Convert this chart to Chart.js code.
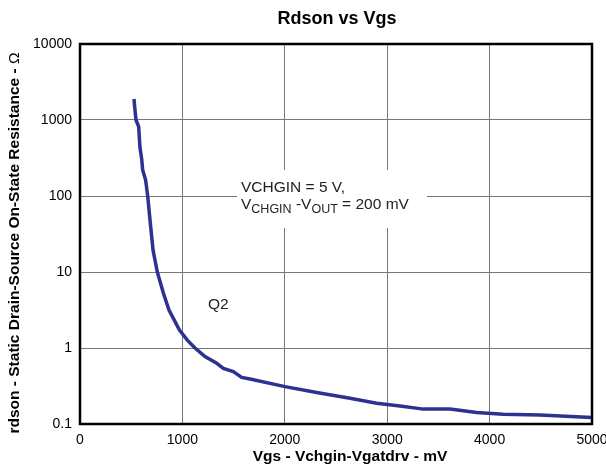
<!DOCTYPE html>
<html>
<head>
<meta charset="utf-8">
<script src="https://cdn.jsdelivr.net/npm/chart.js@4/dist/chart.umd.min.js"></script>
<style>
html,body{margin:0;padding:0;background:#fff;}
#wrap{width:606px;height:470px;position:relative;}
</style>
</head>
<body>
<div id="wrap"><canvas id="c" width="606" height="470"></canvas></div>
<script>
// ---- data ----
const vgs = [527, 537, 547, 573, 579, 586, 602, 612, 641, 661, 684, 713, 755, 814, 869, 970, 1048, 1123, 1221, 1335, 1400, 1497, 1579, 1660, 2002, 2311, 2637, 2897, 3125, 3353, 3613, 3874, 4134, 4492, 4997];
const rdson = [1890, 1355, 1000, 817, 600, 430, 310, 220, 162, 100, 48, 19.5, 10, 5.3, 3.16, 1.73, 1.27, 1.0, 0.77, 0.63, 0.54, 0.49, 0.41, 0.39, 0.31, 0.26, 0.218, 0.187, 0.172, 0.157, 0.157, 0.142, 0.134, 0.131, 0.122];
const xTicks = [0, 1000, 2000, 3000, 4000, 5000];
const yTicks = [0.1, 1, 10, 100, 1000, 10000];
const yTickLabels = ['0.1', '1', '10', '100', '1000', '10000'];
const chartTitle = 'Rdson vs Vgs';
const xTitle = 'Vgs - Vchgin-Vgatdrv - mV';
const yTitle = 'rdson - Static Drain-Source On-State Resistance - ';
const seriesLabel = 'Q2';

const FONT = '"Liberation Sans", Arial, Helvetica, sans-serif';

const points = vgs.map((v, i) => ({x: v, y: rdson[i]}));

const decor = {
  id: 'decor',
  beforeDatasetsDraw(chart) {
    const ctx = chart.ctx;
    ctx.save();
    // white box behind the condition note
    ctx.fillStyle = '#fff';
    ctx.fillRect(237, 170, 190, 58);
    ctx.fillStyle = '#222';
    ctx.textBaseline = 'alphabetic';
    ctx.textAlign = 'left';
    const big = '15.5px ' + FONT, small = '12.5px ' + FONT;
    ctx.font = big;
    ctx.fillText('VCHGIN = 5 V,', 241, 192);
    let x = 241; const b = 209;
    const parts = [['V', big, 0], ['CHGIN', small, 4], [' -V', big, 0], ['OUT', small, 4], [' = 200 mV', big, 0]];
    for (const [t, f, dy] of parts) {
      ctx.font = f;
      ctx.fillText(t, x, b + dy);
      x += ctx.measureText(t).width;
    }
    ctx.font = '15.5px ' + FONT;
    ctx.fillText(seriesLabel, 208, 309);
    ctx.restore();
  },
  afterDraw(chart) {
    const ctx = chart.ctx, a = chart.chartArea;
    ctx.save();
    ctx.strokeStyle = '#000';
    ctx.lineWidth = 2.5;
    ctx.strokeRect(a.left, a.top, a.right - a.left, a.bottom - a.top);
    ctx.fillStyle = '#000';
    ctx.textAlign = 'center';
    ctx.textBaseline = 'middle';
    ctx.font = 'bold 18px ' + FONT;
    ctx.fillText(chartTitle, 337, 19);
    ctx.font = 'bold 15.5px ' + FONT;
    ctx.fillText(xTitle, 350, 457);
    ctx.save();
    ctx.translate(15, 243);
    ctx.rotate(-Math.PI / 2);
    ctx.font = 'bold 15.5px ' + FONT;
    const w1 = ctx.measureText(yTitle).width;
    ctx.font = '15.5px ' + FONT;
    const w2 = ctx.measureText('Ω').width;
    let sx = -(w1 + w2) / 2;
    ctx.textAlign = 'left';
    ctx.font = 'bold 15.5px ' + FONT;
    ctx.fillText(yTitle, sx, 0);
    ctx.font = '15.5px ' + FONT;
    ctx.fillText('Ω', sx + w1, 0);
    ctx.restore();
    ctx.restore();
  }
};

new Chart(document.getElementById('c'), {
  type: 'line',
  data: {
    datasets: [{
      label: seriesLabel,
      data: points,
      borderColor: '#2E3192',
      borderWidth: 3.5,
      pointRadius: 0,
      tension: 0,
      fill: false
    }]
  },
  options: {
    responsive: false,
    animation: false,
    layout: {padding: {top: 44, left: 0, right: 14, bottom: 0}},
    plugins: {legend: {display: false}, title: {display: false}, tooltip: {enabled: false}},
    scales: {
      x: {
        type: 'linear',
        min: 0, max: 5000,
        afterBuildTicks: s => { s.ticks = xTicks.map(v => ({value: v})); },
        afterFit: s => { s.height = 46; s.paddingLeft = 0; s.paddingRight = 0; },
        ticks: {color: '#000', padding: 8, font: {family: FONT, size: 14}, maxRotation: 0, callback: v => String(v)},
        grid: {color: '#777', lineWidth: 1, drawTicks: false},
        border: {display: false}
      },
      y: {
        type: 'logarithmic',
        min: 0.1, max: 10000,
        afterBuildTicks: s => { s.ticks = yTicks.map(v => ({value: v})); },
        afterFit: s => { s.width = 80; s.paddingTop = 0; s.paddingBottom = 0; },
        ticks: {color: '#000', padding: 8, font: {family: FONT, size: 14},
          callback: (v) => { const i = yTicks.findIndex(t => Math.abs(t - v) / t < 1e-6); return i >= 0 ? yTickLabels[i] : ''; }},
        grid: {color: '#777', lineWidth: 1, drawTicks: false},
        border: {display: false}
      }
    }
  },
  plugins: [decor]
});
</script>
</body>
</html>
